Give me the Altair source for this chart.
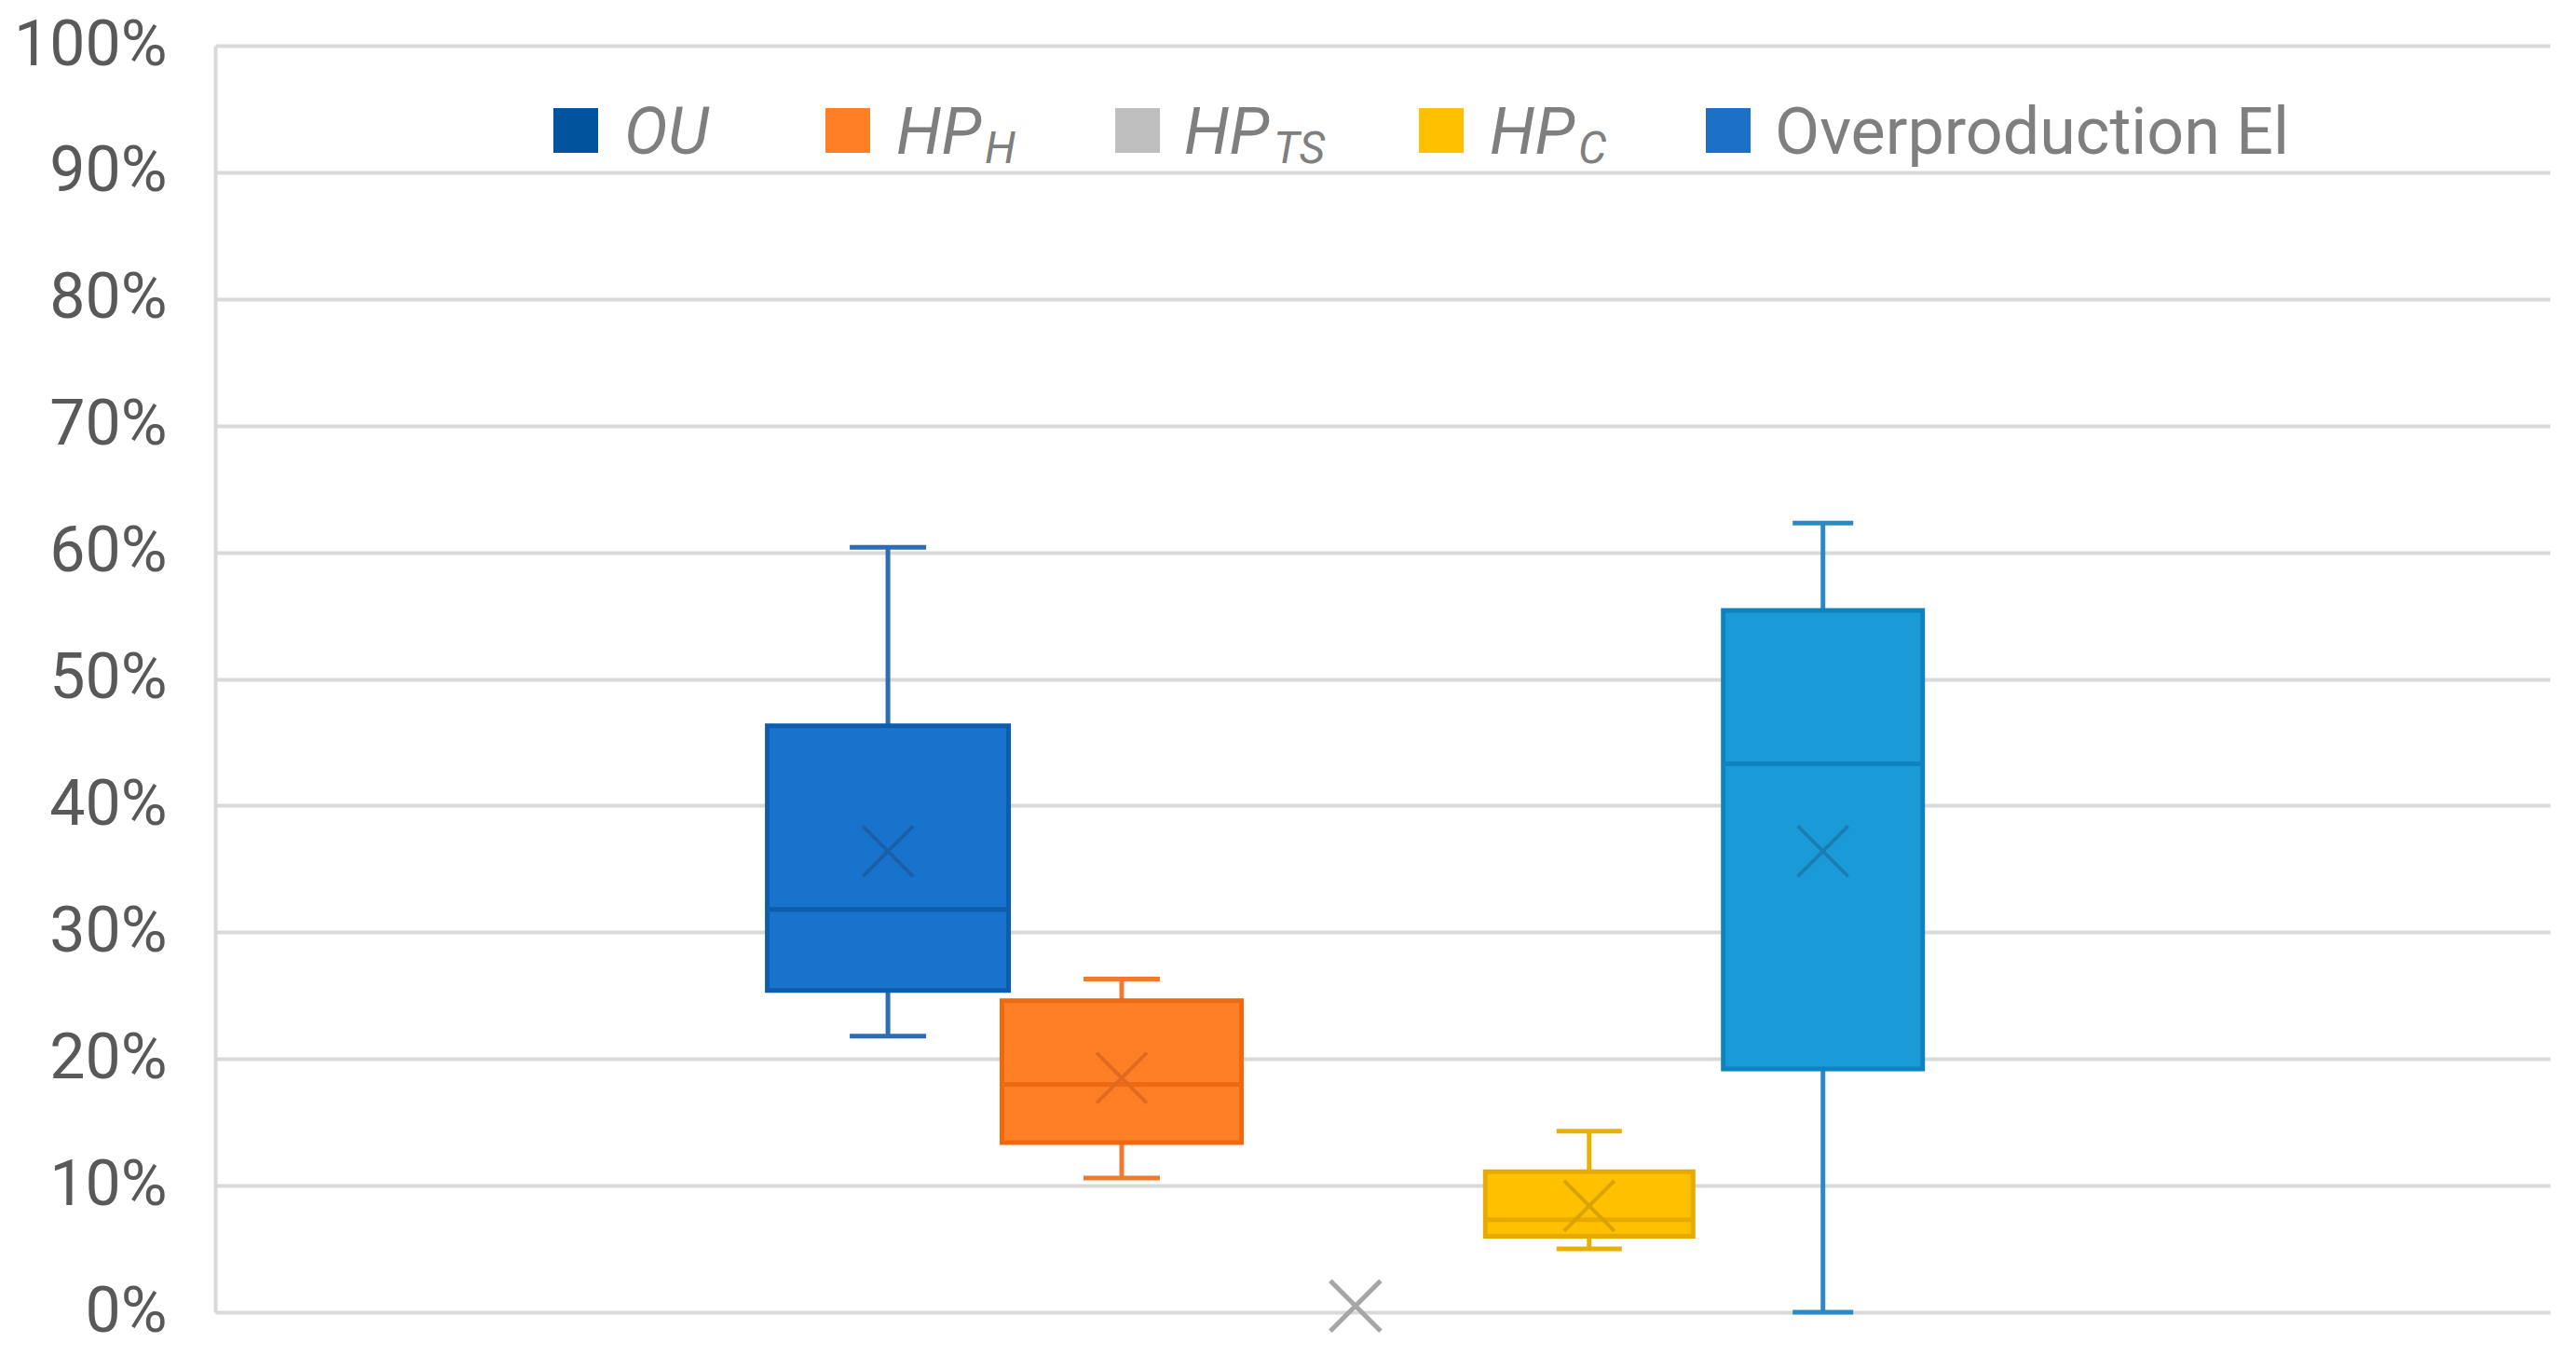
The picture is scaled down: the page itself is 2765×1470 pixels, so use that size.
import altair as alt
import pandas as pd

# ---- data ----
series = ["OU", "HP_H", "HP_TS", "HP_C", "Overproduction El"]
whisker_low = [0.218, 0.106, None, 0.050, 0.000]
q1 = [0.254, 0.134, None, 0.060, 0.192]
median = [0.318, 0.180, None, 0.073, 0.433]
q3 = [0.463, 0.246, None, 0.111, 0.554]
whisker_high = [0.604, 0.263, None, 0.143, 0.623]
mean = [0.364, 0.185, 0.005, 0.084, 0.364]
y_ticks = [i / 10 for i in range(11)]

df = pd.DataFrame({
    "series": series,
    "low": whisker_low,
    "q1": q1,
    "median": median,
    "q3": q3,
    "high": whisker_high,
    "mean": mean,
})

# ---- styles ----
fill_colors = ["#1873CC", "#FF7F27", "#BFBFBF", "#FFC000", "#1A9BD7"]
edge_colors = ["#0E5DAD", "#EE6A12", "#A6A6A6", "#E6AA00", "#0F82C0"]
whisker_colors = ["#2E6DB4", "#F07A30", "#A6A6A6", "#E8B000", "#2B8AC6"]
cross_colors = ["#1B5FA8", "#E06A20", "#A6A6A6", "#D9A300", "#1A7DB5"]
cross_widths = [4, 4, 5, 4, 4]
box_widths = [259, 257, 0, 223, 214]
cap_widths = [82, 82, 0, 70, 65]

W, H = 2506, 1359
FONT = "Roboto"
X_PATH = "M-1,-1L1,1M-1,1L1,-1"
X_DOMAIN = [-2.858, 7.09]  # category-slot units shown across the plot width

series_js = "[" + ",".join("'" + s + "'" for s in series) + "]"

x_enc = alt.X("slot:Q", scale=alt.Scale(domain=X_DOMAIN, nice=False, zero=False), axis=None)
y_scale = alt.Scale(domain=[0, 1], nice=False, zero=True)
y_axis = alt.Axis(
    values=y_ticks, format=".0%", grid=True, gridColor="#D9D9D9", gridWidth=4,
    domain=True, domainColor="#D9D9D9", domainWidth=4, ticks=False,
    labelFontSize=68, labelFont=FONT, labelColor="#595959", labelPadding=52,
    title=None,
)

base = alt.Chart(df).transform_calculate(slot="indexof(" + series_js + ", datum.series)")

layers = []
for i, s in enumerate(series):
    b = base.transform_filter(alt.datum.series == s)
    if q1[i] is not None:
        layers.append(
            b.mark_rule(strokeWidth=5, color=whisker_colors[i]).encode(
                x=x_enc, y=alt.Y("low:Q", scale=y_scale, axis=y_axis), y2="high:Q"
            )
        )
        for fld in ["high", "low"]:
            layers.append(
                b.mark_tick(orient="horizontal", thickness=5, size=cap_widths[i],
                            color=whisker_colors[i], opacity=1).encode(
                    x=x_enc, y=alt.Y(fld + ":Q", scale=y_scale, axis=y_axis)
                )
            )
        layers.append(
            b.mark_bar(orient="vertical", size=box_widths[i], fill=fill_colors[i],
                       stroke=edge_colors[i], strokeWidth=5, opacity=1).encode(
                x=x_enc, y=alt.Y("q1:Q", scale=y_scale, axis=y_axis), y2="q3:Q"
            )
        )
        layers.append(
            b.mark_tick(orient="horizontal", thickness=5, size=box_widths[i],
                        color=edge_colors[i], opacity=1).encode(
                x=x_enc, y=alt.Y("median:Q", scale=y_scale, axis=y_axis)
            )
        )
    layers.append(
        b.mark_point(shape=X_PATH, filled=False, strokeWidth=cross_widths[i], size=2916,
                     color=cross_colors[i], opacity=1).encode(
            x=x_enc, y=alt.Y("mean:Q", scale=y_scale, axis=y_axis)
        )
    )

# ---- custom legend (subscripted labels) ----
legend_colors = ["#00539C", "#FF7F27", "#BFBFBF", "#FFC000", "#1C70C8"]
legend_main = ["OU", "HP", "HP", "HP", "Overproduction El"]
legend_sub = ["", "H", "TS", "C", ""]
legend_italic = [True, True, True, True, False]
# layout (pixels inside the plot area)
sq_x = [387, 679, 990, 1316, 1624]
txt_x = [439, 731, 1040, 1368, 1674]
sub_x = [None, 826, 1136, 1463, None]
SQ_Y, TXT_Y, SUB_Y = 91, 116, 126

one = pd.DataFrame({"k": [0]})
for i in range(len(legend_main)):
    layers.append(
        alt.Chart(one).mark_point(shape="square", filled=True, size=2304, opacity=1).encode(
            x=alt.value(sq_x[i]), y=alt.value(SQ_Y), color=alt.value(legend_colors[i])
        )
    )
    layers.append(
        alt.Chart(one).mark_text(
            text=legend_main[i], font=FONT, fontSize=70, align="left", baseline="alphabetic",
            fontStyle="italic" if legend_italic[i] else "normal", color="#7F7F7F",
        ).encode(x=alt.value(txt_x[i]), y=alt.value(TXT_Y))
    )
    if legend_sub[i]:
        layers.append(
            alt.Chart(one).mark_text(
                text=legend_sub[i], font=FONT, fontSize=48, align="left", baseline="alphabetic",
                fontStyle="italic", color="#7F7F7F",
            ).encode(x=alt.value(sub_x[i]), y=alt.value(SUB_Y))
        )

chart = alt.layer(*layers).properties(
    width=W, height=H,
    autosize=alt.AutoSizeParams(type="none"),
    padding={"left": 223, "top": 41, "right": 12, "bottom": 40},
    background="white",
).configure_view(stroke=None)

chart.save("out.html", embed_options={"renderer": "svg", "actions": False})
